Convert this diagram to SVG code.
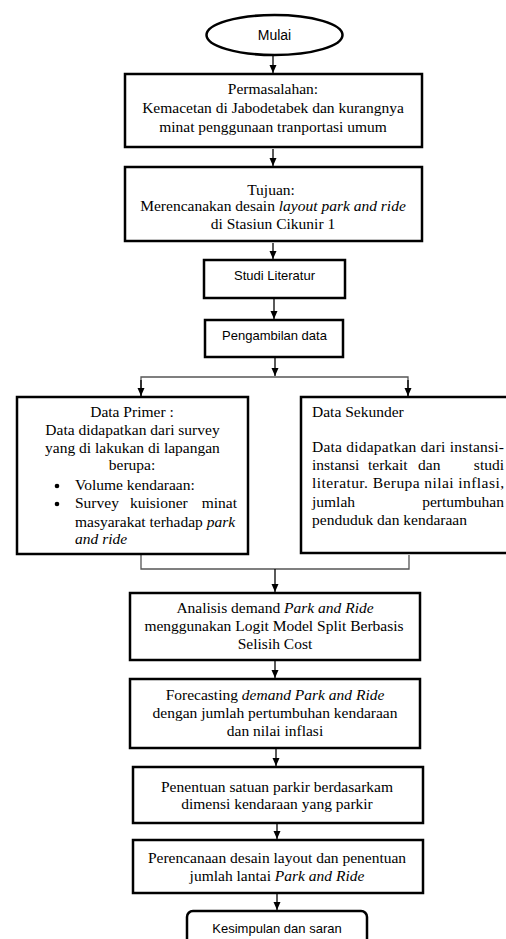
<svg xmlns="http://www.w3.org/2000/svg" width="506" height="939" viewBox="0 0 506 939">
<style>
.box{fill:#fff;stroke:#000;stroke-width:2.5}
.s{font-family:"Liberation Serif","Times New Roman",serif;font-size:15.5px;fill:#000}
.f{font-family:"Liberation Sans",Arial,sans-serif;font-size:13px;fill:#000}
.c{text-anchor:middle}
.e{text-anchor:end}
.i{font-style:italic}
.conn{fill:none;stroke:#000;stroke-width:1.3}
.split{fill:none;stroke:#555;stroke-width:1.3}
</style>
<defs>
<marker id="arr" markerWidth="8" markerHeight="8" viewBox="0 0 8 8" refX="8" refY="4" orient="auto" markerUnits="userSpaceOnUse"><path d="M0,0.5 L8,4 L0,7.5 z" fill="#000"/></marker>
</defs>
<g id="connectors">
<path class="conn" d="M273,56 V73" marker-end="url(#arr)"/>
<path class="conn" d="M273,149 V166" marker-end="url(#arr)"/>
<path class="conn" d="M273,243 V259" marker-end="url(#arr)"/>
<path class="conn" d="M274,299 V319" marker-end="url(#arr)"/>
<path class="conn" d="M275,358 V376" marker-end="url(#arr)"/>
<path class="split" d="M141,396 V377 H408 V396"/>
<path class="conn" d="M141,380 V396" marker-end="url(#arr)"/>
<path class="conn" d="M408,380 V396" marker-end="url(#arr)"/>
<path class="split" d="M141,555 V569 H409 V555"/>
<path class="conn" d="M275,569 V592" marker-end="url(#arr)"/>
<path class="conn" d="M275,661 V678" marker-end="url(#arr)"/>
<path class="conn" d="M276,749 V766" marker-end="url(#arr)"/>
<path class="conn" d="M277,824 V839" marker-end="url(#arr)"/>
<path class="conn" d="M277,894 V910" marker-end="url(#arr)"/>
</g>
<g id="mulai">
<ellipse cx="274.5" cy="35" rx="68" ry="20" fill="#fff" stroke="#000" stroke-width="2.5"/>
<text class="f c" x="274.5" y="40" style="font-size:14px">Mulai</text>
</g>
<g id="permasalahan">
<rect class="box" x="125" y="74" width="297" height="73"/>
<text class="s c" x="273" y="94">Permasalahan:</text>
<text class="s c" x="273" y="113">Kemacetan di Jabodetabek dan kurangnya</text>
<text class="s c" x="273" y="132">minat penggunaan tranportasi umum</text>
</g>
<g id="tujuan">
<rect class="box" x="125" y="167" width="297" height="74"/>
<text class="s c" x="271" y="195">Tujuan:</text>
<text class="s c" x="273" y="211">Merencanakan desain <tspan class="i">layout park and ride</tspan></text>
<text class="s c" x="273" y="229">di Stasiun Cikunir 1</text>
</g>
<g id="studi">
<rect class="box" x="204" y="260" width="141" height="38"/>
<text class="f c" x="274.5" y="280">Studi Literatur</text>
</g>
<g id="pengambilan">
<rect class="box" x="205" y="320" width="138" height="37"/>
<text class="f c" x="274.5" y="340">Pengambilan data</text>
</g>
<g id="primer">
<rect class="box" x="17" y="397" width="231" height="157"/>
<text class="s c" x="132" y="417">Data Primer :</text>
<text class="s c" x="132.5" y="435">Data didapatkan dari survey</text>
<text class="s c" x="132.5" y="453">yang di lakukan di lapangan</text>
<text class="s c" x="132" y="470">berupa:</text>
<circle cx="57" cy="486" r="2.3" fill="#000"/>
<text class="s" x="75" y="490">Volume kendaraan:</text>
<circle cx="57" cy="504" r="2.3" fill="#000"/>
<text class="s" x="75" y="508">Survey</text>
<text class="s" x="130" y="508">kuisioner</text>
<text class="s e" x="237" y="508">minat</text>
<text class="s" x="75" y="527">masyarakat terhadap <tspan class="i">park</tspan></text>
<text class="s i" x="75" y="544">and ride</text>
</g>
<g id="sekunder">
<rect class="box" x="301" y="397" width="215" height="156"/>
<text class="s" x="312" y="417">Data Sekunder</text>
<text class="s" x="312" y="452" textLength="192" lengthAdjust="spacing">Data didapatkan dari instansi-</text>
<text class="s" x="312" y="470">instansi</text>
<text class="s" x="368" y="470">terkait</text>
<text class="s" x="418" y="470">dan</text>
<text class="s e" x="504" y="470">studi</text>
<text class="s" x="312" y="488" textLength="192" lengthAdjust="spacing">literatur. Berupa nilai inflasi,</text>
<text class="s" x="312" y="507">jumlah</text>
<text class="s e" x="504" y="507">pertumbuhan</text>
<text class="s" x="312" y="525">penduduk dan kendaraan</text>
</g>
<g id="analisis">
<rect class="box" x="130" y="593" width="290" height="67"/>
<text class="s c" x="275" y="613">Analisis demand <tspan class="i">Park and Ride</tspan></text>
<text class="s c" x="274" y="631">menggunakan Logit Model Split Berbasis</text>
<text class="s c" x="275" y="649">Selisih Cost</text>
</g>
<g id="forecasting">
<rect class="box" x="130" y="679" width="290" height="69"/>
<text class="s c" x="275" y="700">Forecasting <tspan class="i">demand Park and Ride</tspan></text>
<text class="s c" x="275" y="718">dengan jumlah pertumbuhan kendaraan</text>
<text class="s c" x="275" y="736">dan nilai inflasi</text>
</g>
<g id="penentuan">
<rect class="box" x="133" y="767" width="290" height="56"/>
<text class="s c" x="277" y="792">Penentuan satuan parkir berdasarkam</text>
<text class="s c" x="277" y="809">dimensi kendaraan yang parkir</text>
</g>
<g id="perencanaan">
<rect class="box" x="133" y="840" width="290" height="53"/>
<text class="s c" x="277" y="863">Perencanaan desain layout dan penentuan</text>
<text class="s c" x="277" y="881">jumlah lantai <tspan class="i">Park and Ride</tspan></text>
</g>
<g id="kesimpulan">
<rect class="box" x="187" y="911" width="180" height="40" rx="6"/>
<text class="f c" x="277" y="933">Kesimpulan dan saran</text>
</g>
</svg>
